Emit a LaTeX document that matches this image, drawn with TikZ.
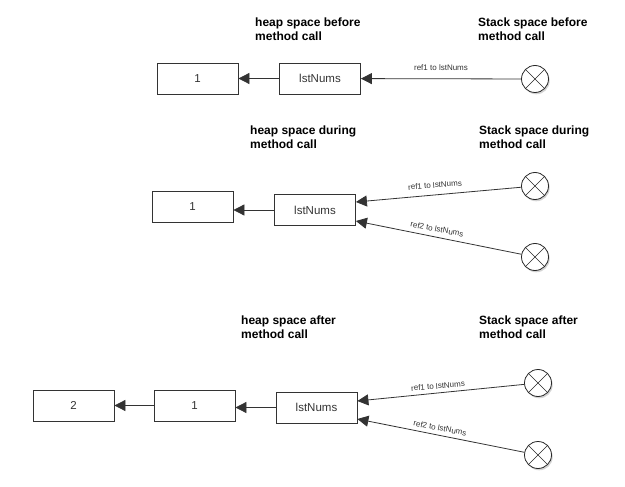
\documentclass[tikz,border=0pt]{standalone}
\usepackage{fontspec}
\setmainfont{Liberation Sans}
\usetikzlibrary{arrows.meta,shadows}
\begin{document}
\begin{tikzpicture}[x=1pt,y=-1pt,
 box/.style={draw=black!80,line width=0.8pt,minimum width=81pt,minimum height=31pt,inner sep=0pt,font=\fontsize{11.5}{13}\selectfont,text=black!80,fill=white},
 title/.style={anchor=north west,inner sep=0pt,align=left,font=\fontsize{12}{14}\selectfont\bfseries},
 xcirc/.style={circle,draw=black!85,line width=0.8pt,minimum size=27pt,inner sep=0pt,fill=white,drop shadow={shadow xshift=1.2pt,shadow yshift=-1.8pt,opacity=0.35}},
 xline/.style={draw=black!85,line width=0.7pt},
 ptr/.style={draw=black!80,line width=0.8pt,-{Triangle[length=11pt,width=11pt]}},
 lbl/.style={font=\fontsize{8}{9}\selectfont,text=black!80,inner sep=0pt},
]
\useasboundingbox (0,0) rectangle (625,487);

% ---------- section 1 ----------
\node[title] (t1h) at (255,18) {heap space before\\method call};
\node[title] (t1s) at (478,18) {Stack space before\\method call};
\node[box] (b11) at (197.5,78.5) {1};
\node[box] (l1) at (320,78.5) {lstNums};
\node[xcirc] (c1) at (535,79) {};
\draw[xline] (c1.north west) -- (c1.south east) (c1.north east) -- (c1.south west);
\draw[ptr] (l1) -- (b11);
\draw[ptr] (c1) -- (l1);
\node[lbl] (r11) at (441,68) {ref1 to lstNums};

% ---------- section 2 ----------
\node[title] (t2h) at (250,126) {heap space during\\method call};
\node[title] (t2s) at (479,126) {Stack space during\\method call};
\node[box] (b21) at (192.5,207) {1};
\node[box] (l2) at (315,210) {lstNums};
\node[xcirc] (c21) at (535,186) {};
\node[xcirc] (c22) at (535,257) {};
\draw[xline] (c21.north west) -- (c21.south east) (c21.north east) -- (c21.south west);
\draw[xline] (c22.north west) -- (c22.south east) (c22.north east) -- (c22.south west);
\draw[ptr] (l2) -- (l2 -| b21.east);
\draw[ptr] (c21) -- ([yshift=8pt]l2.east);
\draw[ptr] (c22) -- ([yshift=-11pt]l2.east);
\node[lbl,rotate=4.6] (r21) at (435,185) {ref1 to lstNums};
\node[lbl,rotate=-11] (r22) at (437,229) {ref2 to lstNums};

% ---------- section 3 ----------
\node[title] (t3h) at (241,316) {heap space after\\method call};
\node[title] (t3s) at (479,316) {Stack space after\\method call};
\node[box] (b32) at (73.5,405.5) {2};
\node[box] (b31) at (194.5,405.5) {1};
\node[box] (l3) at (316.5,407.5) {lstNums};
\node[xcirc] (c31) at (538,383) {};
\node[xcirc] (c32) at (538,455) {};
\draw[xline] (c31.north west) -- (c31.south east) (c31.north east) -- (c31.south west);
\draw[xline] (c32.north west) -- (c32.south east) (c32.north east) -- (c32.south west);
\draw[ptr] (b31) -- (b32);
\draw[ptr] (l3) -- (l3 -| b31.east);
\draw[ptr] (c31) -- ([yshift=6.5pt]l3.east);
\draw[ptr] (c32) -- ([yshift=-11.5pt]l3.east);
\node[lbl,rotate=4.8] (r31) at (438,386) {ref1 to lstNums};
\node[lbl,rotate=-11] (r32) at (440,428) {ref2 to lstNums};
\end{tikzpicture}
\end{document}
